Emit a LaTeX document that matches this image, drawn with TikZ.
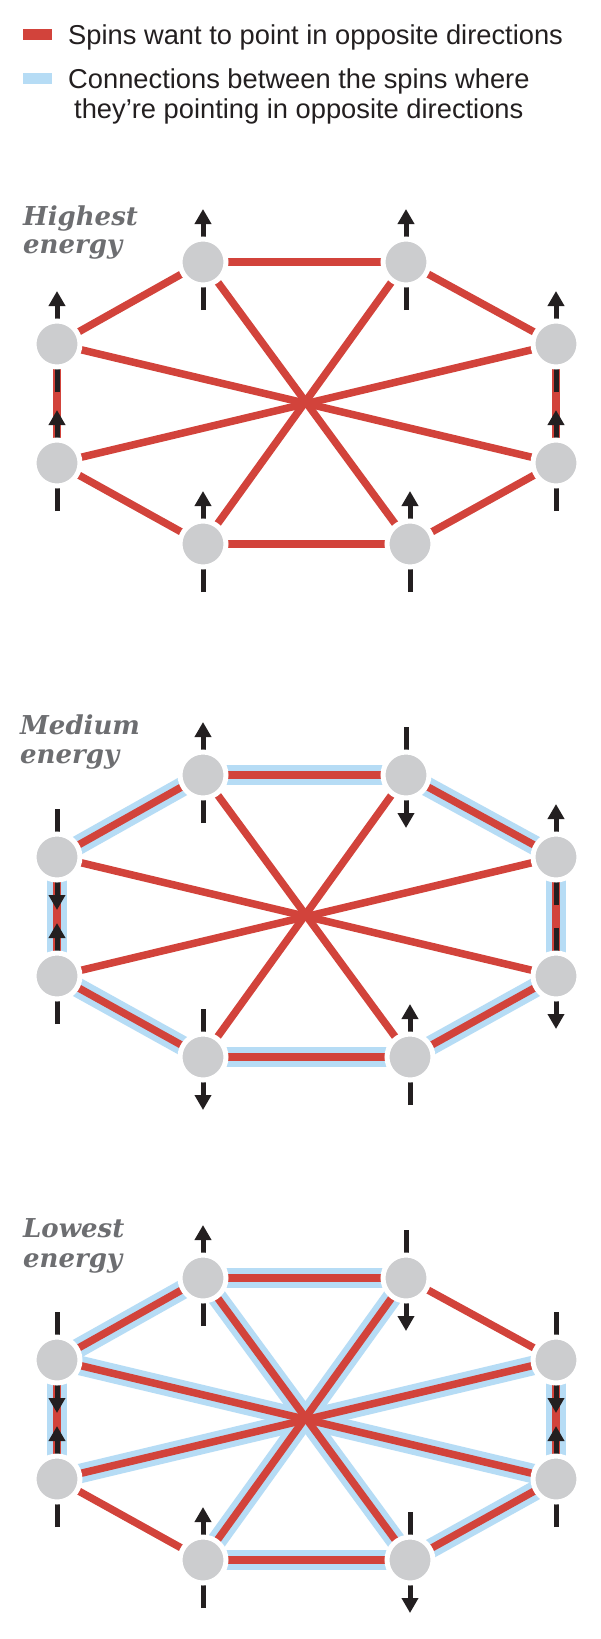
\documentclass[tikz,border=0pt]{standalone}
\usepackage{fontspec}
\newfontfamily\legendfont{Liberation Sans}
\newfontfamily\labelfont{DejaVu Serif}
\usetikzlibrary{arrows.meta}
\pgfdeclarelayer{bgpaper}
\pgfdeclarelayer{bgblue}
\pgfdeclarelayer{bgred}
\pgfdeclarelayer{bgspin}
\pgfsetlayers{bgpaper,bgblue,bgred,bgspin,main}
\definecolor{edgered}{HTML}{D2433B}
\definecolor{edgeblue}{HTML}{B6DCF5}
\definecolor{spingrey}{HTML}{CCCDCF}
\definecolor{spindark}{HTML}{231F20}
\definecolor{labelgrey}{HTML}{6D6E71}
\definecolor{legendcol}{HTML}{231F20}
\tikzset{
  spinnode/.style={circle, inner sep=0pt, minimum size=46pt, fill=spingrey, draw=white, line width=5pt},
  rededge/.style={draw=edgered, line width=7.5pt},
  blueedge/.style={draw=edgeblue, line width=19.5pt},
  spinarrow/.style={draw=spindark, line width=5pt, -{Triangle[width=16pt,length=15pt]}},
  panellabel/.style={anchor=base west, inner sep=0pt, text=labelgrey, font=\labelfont\bfseries\itshape\fontsize{26}{26}\selectfont},
  legendtext/.style={anchor=base west, inner sep=0pt, text=legendcol, font=\legendfont\fontsize{27.3}{30}\selectfont},
  swatch/.style={inner sep=0pt, minimum width=29pt, minimum height=11pt},
}
\newcommand\spinpanel[3]{%
  \foreach \n/\xx/\dy in {TL/203/0, TR/406/0, RU/556/82, RL/556/201, BR/410/282, BL/203/282, LL/57/201, LU/57/82}
    \node[spinnode] (#1\n) at (\xx,#2+\dy) {};
  \begin{pgfonlayer}{bgred}
    \foreach \a/\b in {TL/TR,TR/RU,RU/RL,RL/BR,BR/BL,BL/LL,LL/LU,LU/TL,TL/BR,TR/BL,LU/RL,LL/RU}
      \draw[rededge] (#1\a.center) -- (#1\b.center);
  \end{pgfonlayer}
  \begin{pgfonlayer}{bgspin}
    \foreach \n/\d in {#3} {
      \pgfmathsetmacro\ta{-48*\d}
      \pgfmathsetmacro\tb{53*\d}
      \draw[spinarrow] ([yshift=\ta pt]#1\n.center) -- ([yshift=\tb pt]#1\n.center);
    }
  \end{pgfonlayer}
}
\begin{document}
\begin{tikzpicture}[x=1pt,y=-1pt]
\begin{pgfonlayer}{bgpaper}
\fill[white] (0,0) rectangle (600,1639);
\end{pgfonlayer}
\useasboundingbox (0,0) rectangle (600,1639);

% legend
\node[swatch, fill=edgered] (sw1) at (37.5,34.5) {};
\node[swatch, fill=edgeblue] (sw2) at (37.5,78.5) {};
\node[legendtext] (leg1) at (68,44) {Spins want to point in opposite directions};
\node[legendtext] (leg2) at (68,88) {Connections between the spins where};
\node[legendtext] (leg3) at (74,118) {they’re pointing in opposite directions};

% panel 1
\node[panellabel] (lab1a) at (23,225) {Highest};
\node[panellabel] (lab1b) at (23,253) {energy};
\spinpanel{a}{262}{TL/1,TR/1,RU/1,RL/1,BR/1,BL/1,LL/1,LU/1}

% panel 2
\node[panellabel] (lab2a) at (20,734) {Medium};
\node[panellabel] (lab2b) at (20,763) {energy};
\spinpanel{b}{775}{TL/1,TR/-1,RU/1,RL/-1,BR/1,BL/-1,LL/1,LU/-1}
\begin{pgfonlayer}{bgblue}
  \foreach \a/\b in {TL/TR,TR/RU,RU/RL,RL/BR,BR/BL,BL/LL,LL/LU,LU/TL}
    \draw[blueedge] (b\a.center) -- (b\b.center);
\end{pgfonlayer}

% panel 3
\node[panellabel] (lab3a) at (23,1237) {Lowest};
\node[panellabel] (lab3b) at (23,1267) {energy};
\spinpanel{c}{1278}{TL/1,TR/-1,RU/-1,RL/1,BR/-1,BL/1,LL/1,LU/-1}
\begin{pgfonlayer}{bgblue}
  \foreach \a/\b in {TL/TR,RU/RL,RL/BR,BR/BL,LL/LU,LU/TL,TL/BR,TR/BL,LU/RL,LL/RU}
    \draw[blueedge] (c\a.center) -- (c\b.center);
\end{pgfonlayer}
\end{tikzpicture}
\end{document}
